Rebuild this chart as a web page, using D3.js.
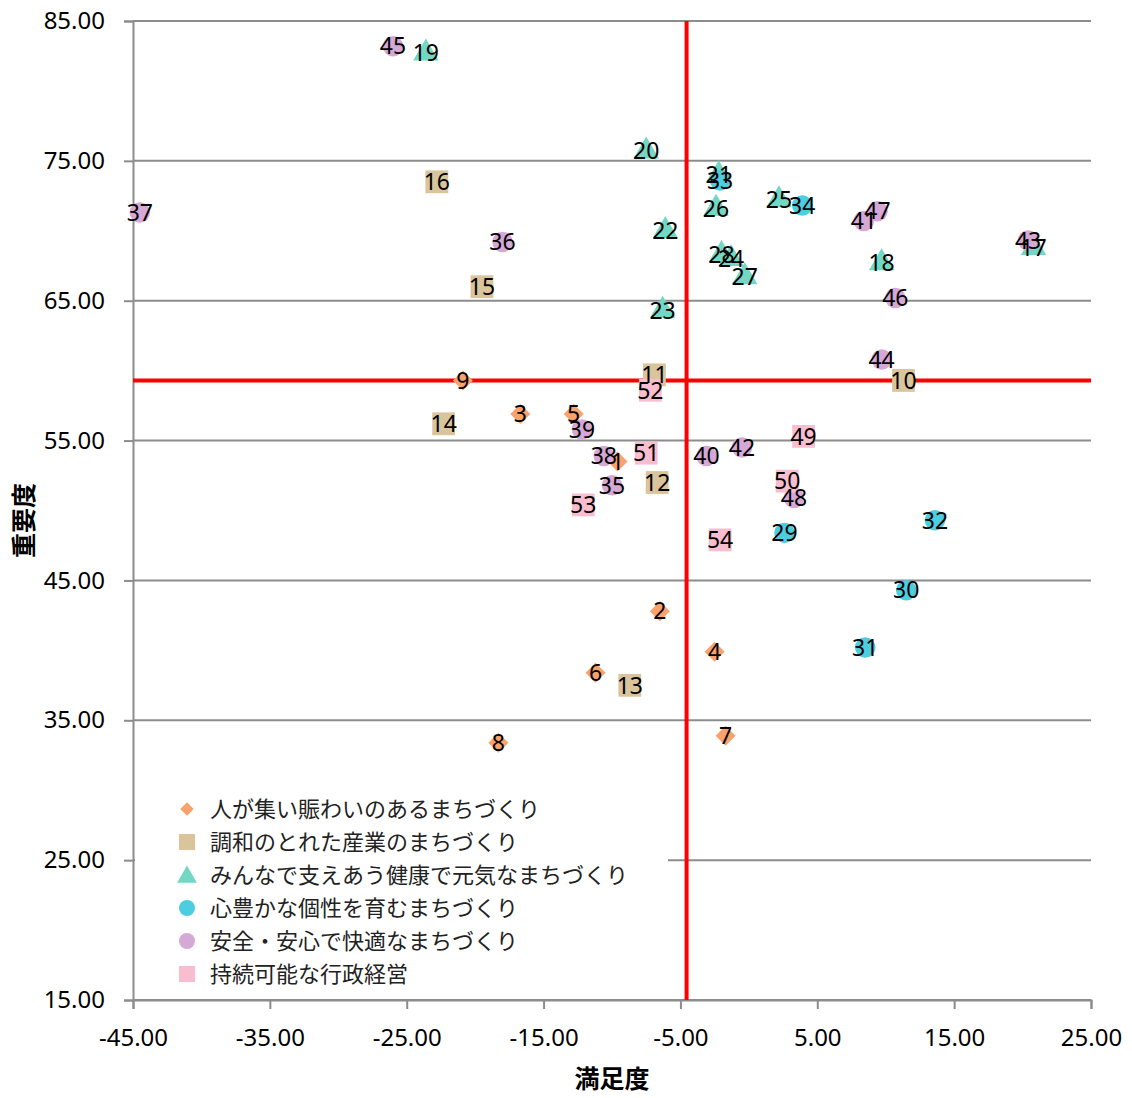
<!DOCTYPE html>
<html>
<head>
<meta charset="utf-8">
<script src="https://cdn.jsdelivr.net/npm/d3@7"></script>
<style>
  body { margin: 0; background: #fff; }
  svg text { font-family: "Noto Sans", "Noto Sans CJK JP", sans-serif; }
</style>
</head>
<body>
<div id="chart-area"></div>
<script>
// 系列名
const seriesNames = [
    "人が集い賑わいのあるまちづくり",
    "調和のとれた産業のまちづくり",
    "みんなで支えあう健康で元気なまちづくり",
    "心豊かな個性を育むまちづくり",
    "安全・安心で快適なまちづくり",
    "持続可能な行政経営"
];

// 各項目: [番号, 満足度, 重要度]
const s1 = [[1, -9.6, 53.5], [2, -6.5, 42.8], [3, -16.7, 56.9], [4, -2.5, 39.9], [5, -12.8, 56.9],
            [6, -11.2, 38.4], [7, -1.7, 33.9], [8, -18.3, 33.4], [9, -20.9, 59.3]];
const s2 = [[10, 11.3, 59.3], [11, -6.9, 59.7], [12, -6.7, 52.0], [13, -8.7, 37.5], [14, -22.3, 56.2],
            [15, -19.5, 66.0], [16, -22.8, 73.5]];
const s3 = [[17, 20.8, 68.8], [18, 9.7, 67.7], [19, -23.6, 82.7], [20, -7.5, 75.7], [21, -2.2, 74.0],
            [22, -6.1, 70.0], [23, -6.3, 64.3], [24, -1.3, 68.0], [25, 2.2, 72.2], [26, -2.4, 71.6],
            [27, -0.3, 66.7], [28, -2.0, 68.3]];
const s4 = [[29, 2.6, 48.4], [30, 11.5, 44.3], [31, 8.5, 40.2], [32, 13.6, 49.3], [33, -2.1, 73.6],
            [34, 3.9, 71.8]];
const s5 = [[35, -10.0, 51.8], [36, -18.0, 69.2], [37, -44.5, 71.3], [38, -10.6, 53.9], [39, -12.2, 55.8],
            [40, -3.1, 53.9], [41, 8.4, 70.7], [42, -0.5, 54.5], [43, 20.4, 69.3], [44, 9.7, 60.8],
            [45, -26.0, 83.2], [46, 10.7, 65.2], [47, 9.4, 71.4], [48, 3.3, 50.9]];
const s6 = [[49, 4.0, 55.3], [50, 2.8, 52.1], [51, -7.5, 54.1], [52, -7.2, 58.6], [53, -12.1, 50.4],
            [54, -2.1, 47.9]];

const xTicks = [-45, -35, -25, -15, -5, 5, 15, 25];
const yTicks = [15, 25, 35, 45, 55, 65, 75, 85];

// 平均値 (赤線)
const avgSatisfaction = -4.55;
const avgImportance = 59.3;

const allSeries = [s1, s2, s3, s4, s5, s6];
const colors = ["#F9A26C", "#D9C49C", "#72D8C4", "#4DCDE0", "#D6A8D6", "#F9BDD0"];
const shapes = [d3.symbolSquare, d3.symbolSquare, d3.symbolTriangle, d3.symbolCircle, d3.symbolCircle, d3.symbolSquare];
const markSizes = [200, 520, 280, 330, 330, 520];
const legendSizes = [90, 260, 170, 200, 200, 260];

const width = 1132;
const height = 1098;
const margin = { top: 21, right: 41, bottom: 98, left: 133 };
const innerW = width - margin.left - margin.right;
const innerH = height - margin.top - margin.bottom;

const svg = d3.select("#chart-area")
    .append("svg")
    .attr("width", width)
    .attr("height", height);

const g = svg.append("g")
    .attr("transform", `translate(${margin.left}, ${margin.top})`);

const x = d3.scaleLinear().domain([-45, 25]).range([0, innerW]);
const y = d3.scaleLinear().domain([15, 85]).range([innerH, 0]);

// Excel風: マイナスはハイフン
const fmt = d => d3.format(".2f")(d).replace("\u2212", "-");

// 横グリッド線
g.selectAll("line.grid")
    .data(yTicks)
    .enter()
    .append("line")
    .attr("class", "grid")
    .attr("x1", 0)
    .attr("x2", innerW)
    .attr("y1", d => y(d))
    .attr("y2", d => y(d))
    .attr("stroke", "#8c8c8c")
    .attr("stroke-width", 2);

// 軸
const bottomAxis = d3.axisBottom(x).tickValues(xTicks).tickFormat(fmt).tickSizeOuter(0).tickSize(9).tickPadding(20);
const xg = g.append("g")
    .attr("transform", `translate(0, ${innerH})`)
    .call(bottomAxis);

const leftAxis = d3.axisLeft(y).tickValues(yTicks).tickFormat(fmt).tickSizeOuter(0).tickSize(9).tickPadding(19);
const yg = g.append("g").call(leftAxis);

[xg, yg].forEach(a => {
    a.select(".domain").attr("stroke", "#8c8c8c").attr("stroke-width", 2);
    a.selectAll(".tick line").attr("stroke", "#8c8c8c").attr("stroke-width", 2);
    a.selectAll("text").attr("font-size", "24px").attr("fill", "#000")
        .style("font-family", "Noto Sans");
});

// 凡例背景 (グリッド線を隠す)
g.append("rect")
    .attr("x", 2)
    .attr("y", 768)
    .attr("width", 533)
    .attr("height", 208)
    .attr("fill", "#fff");

// 赤線 (平均)
g.append("line")
    .attr("x1", x(avgSatisfaction))
    .attr("x2", x(avgSatisfaction))
    .attr("y1", 0)
    .attr("y2", innerH)
    .attr("stroke", "#ff0000")
    .attr("stroke-width", 4);
g.append("line")
    .attr("x1", 0)
    .attr("x2", innerW)
    .attr("y1", y(avgImportance))
    .attr("y2", y(avgImportance))
    .attr("stroke", "#ff0000")
    .attr("stroke-width", 4);

// マーカー (ひし形は正方形を45度回転)
allSeries.forEach((data, i) => {
    g.append("g").selectAll("path")
        .data(data)
        .enter()
        .append("path")
        .attr("d", d3.symbol().type(shapes[i]).size(markSizes[i]))
        .attr("transform", d => `translate(${x(d[1])}, ${y(d[2])})` + (i === 0 ? " rotate(45)" : ""))
        .attr("fill", colors[i]);
});

// データラベル
allSeries.forEach(data => {
    g.append("g").selectAll("text")
        .data(data)
        .enter()
        .append("text")
        .attr("x", d => x(d[1]))
        .attr("y", d => y(d[2]))
        .attr("dy", "0.36em")
        .attr("text-anchor", "middle")
        .attr("font-size", "23px")
        .attr("fill", "#000")
        .text(d => d[0]);
});

// 凡例
const legend = g.append("g").attr("transform", "translate(54, 788)");
seriesNames.forEach((name, i) => {
    const row = legend.append("g").attr("transform", `translate(0, ${i * 33})`);
    row.append("path")
        .attr("d", d3.symbol().type(shapes[i]).size(legendSizes[i]))
        .attr("transform", i === 0 ? "rotate(45)" : (i === 2 ? "translate(0, 2)" : null))
        .attr("fill", colors[i]);
    row.append("text")
        .attr("x", 23)
        .attr("dy", "0.36em")
        .attr("font-size", "22px")
        .attr("fill", "#222")
        .style("font-family", "Noto Sans CJK JP")
        .text(name);
});

// 軸ラベル
g.append("text")
    .attr("x", innerW / 2)
    .attr("y", innerH + 88)
    .attr("text-anchor", "middle")
    .attr("font-size", "25px")
    .attr("font-weight", "bold")
    .style("font-family", "Noto Sans CJK JP")
    .text("満足度");

g.append("text")
    .attr("transform", "rotate(-90)")
    .attr("x", -(innerH / 2) - 10)
    .attr("y", -100)
    .attr("text-anchor", "middle")
    .attr("font-size", "25px")
    .attr("font-weight", "bold")
    .style("font-family", "Noto Sans CJK JP")
    .text("重要度");
</script>
</body>
</html>
